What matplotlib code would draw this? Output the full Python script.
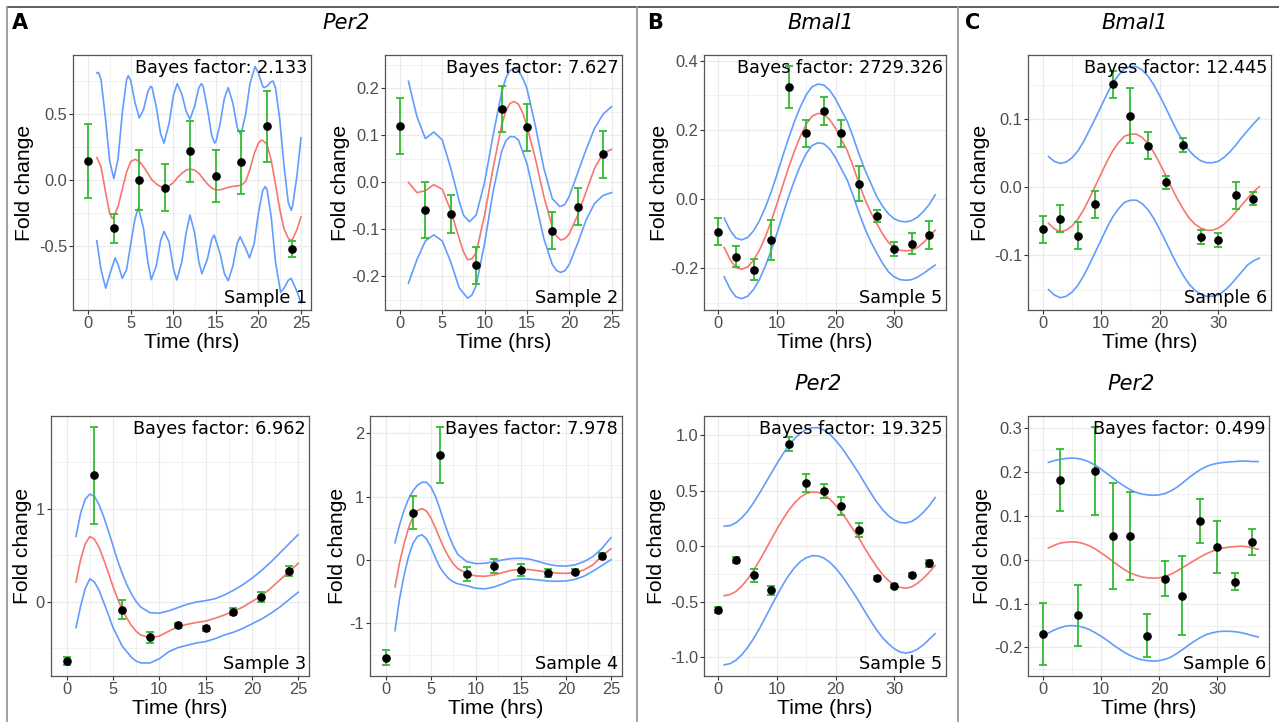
import numpy as np
import matplotlib
matplotlib.use('Agg')
import matplotlib.pyplot as plt
from matplotlib.lines import Line2D
from matplotlib.ticker import FixedLocator, FormatStrFormatter

W, H = 1279, 722
plt.rcParams['axes.unicode_minus'] = False

# ---------------- data ----------------
t_pts_A = [0, 3, 6, 9, 12, 15, 18, 21, 24]
t_pts_BC = [0, 3, 6, 9, 12, 15, 18, 21, 24, 27, 30, 33, 36]

# Sample 1 (Per2)
s1_mean = [0.141, -0.364, 0.0, -0.058, 0.217, 0.03, 0.134, 0.407, -0.525]
s1_err = [0.28, 0.11, 0.23, 0.18, 0.23, 0.2, 0.24, 0.27, 0.06]
s1_fit_t = [1.0, 1.5, 2.0, 2.5, 2.8, 3.0, 3.5, 4.0, 4.5, 5.0, 5.5, 6.0, 6.5, 7.0, 7.5,
            8.0, 8.5, 9.0, 9.5, 10.0, 10.5, 11.0, 11.5, 12.0, 12.5, 13.0, 13.5, 14.0,
            14.5, 15.0, 15.5, 16.0, 16.5, 17.0, 17.5, 18.0, 18.5, 19.0, 19.5, 20.0,
            20.3, 20.5, 21.0, 21.5, 22.0, 22.5, 23.0, 23.5, 23.7, 24.0, 24.5, 25.0]
s1_fit = [0.17, 0.10, -0.08, -0.25, -0.29, -0.28, -0.20, -0.07, 0.06, 0.14, 0.157,
          0.14, 0.10, 0.05, 0.00, -0.03, -0.05, -0.056, -0.045, -0.02, 0.02, 0.05,
          0.075, 0.083, 0.075, 0.05, 0.01, -0.03, -0.06, -0.076, -0.074, -0.065,
          -0.055, -0.048, -0.045, -0.04, -0.01, 0.08, 0.20, 0.28, 0.30, 0.30, 0.27,
          0.15, -0.03, -0.22, -0.37, -0.44, -0.455, -0.45, -0.38, -0.28]
s1_up_t = [1.0, 1.2, 1.5, 2.0, 2.5, 3.0, 3.5, 4.0, 4.5, 4.7, 5.0, 5.5, 6.0, 6.5, 7.0,
           7.35, 7.5, 8.0, 8.5, 8.9, 9.5, 10.0, 10.45, 11.0, 11.5, 11.95, 12.5, 13.0,
           13.3, 13.5, 14.0, 14.5, 14.85, 15.0, 15.5, 16.0, 16.45, 17.0, 17.5, 17.85,
           18.0, 18.5, 19.0, 19.6, 20.0, 20.5, 20.65, 21.0, 21.5, 21.7, 22.0, 22.5,
           23.0, 23.5, 23.85, 24.0, 24.5, 25.0]
s1_up = [0.81, 0.815, 0.76, 0.48, 0.15, 0.01, 0.16, 0.51, 0.76, 0.79, 0.75, 0.585,
         0.47, 0.535, 0.67, 0.71, 0.70, 0.55, 0.35, 0.28, 0.43, 0.64, 0.73, 0.65,
         0.52, 0.46, 0.56, 0.70, 0.73, 0.71, 0.54, 0.34, 0.28, 0.29, 0.43, 0.62,
         0.70, 0.58, 0.40, 0.35, 0.36, 0.50, 0.73, 0.86, 0.81, 0.71, 0.70, 0.71,
         0.745, 0.75, 0.70, 0.46, 0.11, -0.17, -0.23, -0.20, 0.02, 0.32]
s1_lo_t = [1.0, 1.5, 2.05, 2.5, 3.15, 3.5, 4.0, 4.5, 5.0, 5.5, 5.9, 6.5, 7.0, 7.4, 8.0,
           8.5, 8.9, 9.5, 10.0, 10.4, 11.0, 11.5, 11.95, 12.5, 13.0, 13.35, 14.0,
           14.5, 14.8, 15.5, 16.0, 16.45, 17.0, 17.5, 17.85, 18.5, 18.95, 19.5, 20.0,
           20.5, 20.8, 21.0, 21.5, 22.0, 22.6, 23.0, 23.5, 23.85, 24.5, 25.0]
s1_lo = [-0.46, -0.68, -0.82, -0.72, -0.59, -0.64, -0.745, -0.68, -0.48, -0.29,
         -0.21, -0.37, -0.62, -0.755, -0.65, -0.46, -0.39, -0.47, -0.67, -0.758,
         -0.62, -0.40, -0.265, -0.40, -0.62, -0.71, -0.60, -0.45, -0.417, -0.56,
         -0.71, -0.763, -0.65, -0.48, -0.43, -0.52, -0.59, -0.48, -0.25, -0.08,
         -0.05, -0.07, -0.28, -0.62, -0.85, -0.82, -0.76, -0.745, -0.84, -0.93]

# Sample 2 (Per2)
s2_mean = [0.120, -0.059, -0.0675, -0.177, 0.156, 0.117, -0.103, -0.052, 0.060]
s2_err = [0.06, 0.06, 0.04, 0.04, 0.05, 0.05, 0.04, 0.04, 0.05]
s2_fit_t = [1, 2, 3, 4, 5, 6, 7, 7.5, 8, 8.5, 9, 10, 11, 12, 12.5, 13, 13.5, 14, 14.5,
            15, 16, 17, 18, 18.5, 19, 19.5, 20, 21, 22, 23, 24, 25]
s2_fit = [0.0, -0.022, -0.018, -0.005, -0.015, -0.06, -0.12, -0.148, -0.165, -0.163,
          -0.15, -0.07, 0.03, 0.12, 0.152, 0.168, 0.172, 0.166, 0.148, 0.12, 0.05,
          -0.03, -0.095, -0.115, -0.123, -0.12, -0.11, -0.07, -0.02, 0.03, 0.062, 0.070]
s2_up_t = [1, 2, 3, 4, 5, 6, 7, 7.5, 8.2, 9, 10, 11, 12, 12.5, 13, 13.6, 14, 14.5, 15,
           16, 17, 18, 18.9, 19.5, 20, 21, 22, 23, 24, 25]
s2_up = [0.215, 0.14, 0.093, 0.107, 0.09, 0.03, -0.04, -0.07, -0.084, -0.07, 0.0,
         0.10, 0.19, 0.222, 0.238, 0.243, 0.238, 0.222, 0.20, 0.12, 0.03, -0.035,
         -0.052, -0.047, -0.03, 0.02, 0.07, 0.115, 0.145, 0.161]
s2_lo_t = [1, 2, 3, 4, 5, 6, 7, 8, 8.5, 9, 10, 11, 12, 12.5, 13, 13.5, 14, 15, 16, 17,
           18, 18.5, 19, 19.5, 20, 21, 22, 23, 24, 25]
s2_lo = [-0.215, -0.165, -0.125, -0.112, -0.125, -0.17, -0.225, -0.247, -0.24, -0.22,
         -0.13, -0.02, 0.065, 0.088, 0.097, 0.097, 0.09, 0.04, -0.04, -0.12, -0.175,
         -0.188, -0.192, -0.188, -0.175, -0.13, -0.08, -0.045, -0.028, -0.022]

# Sample 3 (Per2)
s3_mean = [-0.639, 1.357, -0.086, -0.386, -0.257, -0.286, -0.107, 0.046, 0.332]
s3_err = [0.045, 0.52, 0.10, 0.06, 0.027, 0.025, 0.034, 0.055, 0.052]
s34_t = [1.0, 1.5, 2.0, 2.5, 3.0, 3.5, 4.0, 4.5, 5.0, 5.5, 6.0, 6.5, 7.0, 7.5, 8.0,
         9, 10, 11, 12, 13, 14, 15, 16, 17, 18, 19, 20, 21, 22, 23, 24, 25]
s3_fit = [0.21, 0.45, 0.62, 0.70, 0.67, 0.58, 0.45, 0.31, 0.16, 0.03, -0.09, -0.18,
          -0.26, -0.32, -0.36,
          -0.39, -0.37, -0.32, -0.27, -0.245, -0.225, -0.21, -0.18, -0.145, -0.105,
          -0.06, 0.0, 0.06, 0.14, 0.23, 0.32, 0.41]
s3_up = [0.70, 0.95, 1.10, 1.155, 1.13, 1.04, 0.91, 0.76, 0.60, 0.44, 0.30, 0.18,
         0.08, 0.0, -0.06,
         -0.12, -0.125, -0.10, -0.065, -0.03, -0.005, 0.01, 0.03, 0.07, 0.12,
         0.18, 0.25, 0.33, 0.42, 0.52, 0.62, 0.72]
s3_lo = [-0.28, -0.05, 0.14, 0.245, 0.21, 0.12, -0.01, -0.14, -0.28, -0.38, -0.48,
         -0.54, -0.60, -0.64, -0.66,
         -0.66, -0.615, -0.54, -0.495, -0.47, -0.445, -0.43, -0.40, -0.36, -0.33,
         -0.29, -0.24, -0.19, -0.13, -0.06, 0.02, 0.10]

# Sample 4 (Per2)
s4_mean = [-1.545, 0.746, 1.661, -0.222, -0.10, -0.164, -0.206, -0.185, 0.063]
s4_err = [0.115, 0.26, 0.44, 0.115, 0.105, 0.09, 0.066, 0.043, 0.05]
s4_fit = [-0.43, -0.05, 0.25, 0.50, 0.68, 0.78, 0.81, 0.77, 0.66, 0.50, 0.33, 0.17,
          0.04, -0.07, -0.14,
          -0.22, -0.255, -0.26, -0.24, -0.20, -0.165, -0.15, -0.155, -0.175, -0.195,
          -0.21, -0.215, -0.2, -0.16, -0.08, 0.06, 0.175]
s4_up = [0.27, 0.55, 0.78, 0.96, 1.09, 1.18, 1.225, 1.225, 1.15, 1.0, 0.80, 0.58,
         0.38, 0.21, 0.08,
         -0.03, -0.06, -0.055, -0.03, 0.0, 0.02, 0.025, 0.01, -0.03, -0.07,
         -0.095, -0.10, -0.08, -0.03, 0.05, 0.18, 0.35]
s4_lo = [-1.12, -0.62, -0.25, 0.05, 0.26, 0.37, 0.395, 0.33, 0.20, 0.03, -0.12, -0.22,
         -0.30, -0.35, -0.38,
         -0.41, -0.45, -0.46, -0.43, -0.38, -0.32, -0.30, -0.305, -0.32, -0.335,
         -0.34, -0.335, -0.31, -0.26, -0.18, -0.09, 0.0]

t_curve_BC = list(range(1, 38))

# Sample 5 (Bmal1)
s5b_mean = [-0.094, -0.167, -0.204, -0.119, 0.325, 0.19, 0.255, 0.19, 0.045,
            -0.049, -0.145, -0.129, -0.104]
s5b_err = [0.04, 0.03, 0.03, 0.058, 0.06, 0.04, 0.04, 0.04, 0.05, 0.018, 0.02, 0.03, 0.04]
s5b_fit = [-0.14, -0.175, -0.198, -0.203, -0.196, -0.177, -0.148, -0.11, -0.065, -0.014,
           0.04, 0.092, 0.14, 0.182, 0.217, 0.24, 0.248, 0.245, 0.23, 0.205,
           0.172, 0.14, 0.095, 0.045, 0.0, -0.038, -0.07, -0.10, -0.125, -0.14,
           -0.148, -0.15, -0.148, -0.14, -0.126, -0.108, -0.09]
s5b_up = [-0.055, -0.09, -0.113, -0.118, -0.111, -0.092, -0.063, -0.025, 0.02, 0.071,
          0.125, 0.177, 0.225, 0.267, 0.302, 0.325, 0.333, 0.33, 0.315, 0.29,
          0.257, 0.225, 0.18, 0.13, 0.085, 0.047, 0.008, -0.02, -0.042, -0.057,
          -0.064, -0.066, -0.062, -0.052, -0.036, -0.015, 0.012]
s5b_lo = [-0.225, -0.26, -0.283, -0.288, -0.281, -0.262, -0.233, -0.195, -0.15, -0.099,
          -0.045, 0.007, 0.055, 0.097, 0.132, 0.155, 0.163, 0.16, 0.145, 0.12,
          0.087, 0.055, 0.01, -0.04, -0.085, -0.123, -0.155, -0.185, -0.21, -0.225,
          -0.233, -0.235, -0.233, -0.226, -0.215, -0.203, -0.191]

# Sample 6 (Bmal1)
s6b_mean = [-0.0615, -0.046, -0.071, -0.025, 0.151, 0.105, 0.061, 0.007, 0.062,
            -0.073, -0.077, -0.012, -0.0166]
s6b_err = [0.02, 0.02, 0.02, 0.02, 0.02, 0.04, 0.02, 0.01, 0.01, 0.01, 0.01, 0.02, 0.01]
s6b_fit = [-0.053, -0.061, -0.065, -0.063, -0.057, -0.047, -0.033, -0.016, 0.002, 0.02,
           0.038, 0.054, 0.066, 0.075, 0.078, 0.078, 0.073, 0.064, 0.051, 0.035,
           0.018, 0.0, -0.017, -0.032, -0.045, -0.054, -0.06, -0.063, -0.063, -0.06,
           -0.054, -0.046, -0.036, -0.026, -0.016, -0.007, 0.001]
s6b_up = [0.045, 0.038, 0.035, 0.037, 0.043, 0.053, 0.067, 0.084, 0.101, 0.119,
          0.137, 0.153, 0.165, 0.174, 0.177, 0.177, 0.172, 0.163, 0.15, 0.134,
          0.117, 0.099, 0.082, 0.067, 0.054, 0.045, 0.039, 0.036, 0.036, 0.038,
          0.044, 0.052, 0.062, 0.073, 0.083, 0.093, 0.102]
s6b_lo = [-0.150, -0.158, -0.162, -0.160, -0.154, -0.144, -0.130, -0.113, -0.095, -0.077,
          -0.059, -0.043, -0.031, -0.022, -0.019, -0.019, -0.024, -0.033, -0.046, -0.062,
          -0.079, -0.097, -0.114, -0.129, -0.142, -0.151, -0.157, -0.160, -0.160, -0.158,
          -0.152, -0.144, -0.134, -0.124, -0.114, -0.108, -0.104]

# Sample 5 (Per2)
s5p_mean = [-0.574, -0.124, -0.263, -0.399, 0.921, 0.568, 0.498, 0.363, 0.145,
            -0.287, -0.363, -0.26, -0.157]
s5p_err = [0.027, 0.028, 0.06, 0.04, 0.06, 0.08, 0.06, 0.08, 0.06, 0.02, 0.018, 0.018, 0.03]
s5p_fit = [-0.447, -0.438, -0.409, -0.361, -0.297, -0.22, -0.132, -0.038, 0.058, 0.153,
           0.243, 0.322, 0.389, 0.441, 0.474, 0.488, 0.485, 0.463, 0.425, 0.37,
           0.305, 0.23, 0.15, 0.07, -0.02, -0.105, -0.185, -0.255, -0.31, -0.35,
           -0.372, -0.38, -0.368, -0.335, -0.29, -0.235, -0.175]
s5p_up = [0.18, 0.185, 0.21, 0.255, 0.315, 0.39, 0.475, 0.565, 0.655, 0.745,
          0.83, 0.905, 0.97, 1.02, 1.053, 1.068, 1.068, 1.048, 1.01, 0.955,
          0.89, 0.815, 0.735, 0.655, 0.565, 0.48, 0.40, 0.33, 0.275, 0.235,
          0.213, 0.208, 0.222, 0.257, 0.305, 0.365, 0.438]
s5p_lo = [-1.072, -1.06, -1.03, -0.98, -0.915, -0.835, -0.745, -0.645, -0.545, -0.445,
          -0.35, -0.265, -0.195, -0.14, -0.105, -0.087, -0.088, -0.108, -0.145, -0.198,
          -0.263, -0.338, -0.418, -0.50, -0.59, -0.675, -0.755, -0.825, -0.88, -0.925,
          -0.955, -0.965, -0.955, -0.93, -0.89, -0.84, -0.79]

# Sample 6 (Per2)
s6p_mean = [-0.169, 0.182, -0.127, 0.202, 0.054, 0.055, -0.173, -0.043, -0.082,
            0.088, 0.029, -0.05, 0.040]
s6p_err = [0.07, 0.07, 0.069, 0.10, 0.12, 0.10, 0.049, 0.04, 0.09, 0.05, 0.06, 0.02, 0.03]
s6p_fit = [0.027, 0.033, 0.038, 0.040, 0.041, 0.040, 0.037, 0.032, 0.025, 0.016,
           0.007, -0.003, -0.013, -0.022, -0.030, -0.035, -0.039, -0.041, -0.042, -0.041,
           -0.038, -0.033, -0.026, -0.018, -0.010, -0.002, 0.006, 0.013, 0.019, 0.024,
           0.027, 0.029, 0.030, 0.031, 0.030, 0.027, 0.024]
s6p_up = [0.222, 0.226, 0.229, 0.231, 0.232, 0.231, 0.228, 0.223, 0.216, 0.207,
          0.197, 0.187, 0.177, 0.168, 0.160, 0.154, 0.150, 0.148, 0.147, 0.148,
          0.151, 0.157, 0.165, 0.175, 0.186, 0.196, 0.205, 0.212, 0.217, 0.220,
          0.222, 0.223, 0.224, 0.225, 0.225, 0.224, 0.224]
s6p_lo = [-0.167, -0.160, -0.155, -0.151, -0.150, -0.151, -0.154, -0.159, -0.166, -0.174,
          -0.183, -0.193, -0.202, -0.211, -0.218, -0.224, -0.228, -0.230, -0.231, -0.230,
          -0.227, -0.222, -0.214, -0.205, -0.195, -0.186, -0.178, -0.171, -0.167, -0.164,
          -0.163, -0.163, -0.164, -0.166, -0.169, -0.173, -0.176]

bayes = ["2.133", "7.627", "6.962", "7.978", "2729.326", "12.445", "19.325", "0.499"]
samples = ["Sample 1", "Sample 2", "Sample 3", "Sample 4",
           "Sample 5", "Sample 6", "Sample 5", "Sample 6"]
xticks_A = [0, 5, 10, 15, 20, 25]
xticks_BC = [0, 10, 20, 30]

# ---------------- style ----------------
RED = '#F8766D'
BLUE = '#619CFF'
GREEN = '#33BB33'
GRID = '#EBEBEB'
TICKC = '#4D4D4D'
SANS = 'Liberation Sans'
TXT = 'DejaVu Sans'

fig = plt.figure(figsize=(W / 100, H / 100), dpi=100)


def rect(l, t, r, b):
    return [l / W, 1 - b / H, (r - l) / W, (b - t) / H]


panels = [
    dict(box=(73.3, 55, 310.7, 310), tp=t_pts_A, m=s1_mean, e=s1_err,
         fit=(s1_fit_t, s1_fit), up=(s1_up_t, s1_up), lo=(s1_lo_t, s1_lo),
         xl=(-1.76, 26.14), yl=(-0.985, 0.947),
         yt=[-0.5, 0.0, 0.5], ym=[-0.75, -0.25, 0.25, 0.75], fmt='%.1f', xt=xticks_A,
         ylab=25, xlab=342.5),
    dict(box=(385, 55, 621.7, 310), tp=t_pts_A, m=s2_mean, e=s2_err,
         fit=(s2_fit_t, s2_fit), up=(s2_up_t, s2_up), lo=(s2_lo_t, s2_lo),
         xl=(-1.77, 26.2), yl=(-0.272, 0.271),
         yt=[-0.2, -0.1, 0.0, 0.1, 0.2], ym=[-0.25, -0.15, -0.05, 0.05, 0.15, 0.25],
         fmt='%.1f', xt=xticks_A, ylab=340, xlab=342.5),
    dict(box=(50.7, 415.5, 309.3, 676), tp=t_pts_A, m=s3_mean, e=s3_err,
         fit=(s34_t, s3_fit), up=(s34_t, s3_up), lo=(s34_t, s3_lo),
         xl=(-1.73, 26.2), yl=(-0.80, 2.0),
         yt=[0, 1], ym=[-0.5, 0.5, 1.5], fmt='%d', xt=xticks_A, ylab=23, xlab=708.5),
    dict(box=(370, 415.5, 621.7, 676), tp=t_pts_A, m=s4_mean, e=s4_err,
         fit=(s34_t, s4_fit), up=(s34_t, s4_up), lo=(s34_t, s4_lo),
         xl=(-1.78, 26.2), yl=(-1.836, 2.28),
         yt=[-1, 0, 1, 2], ym=[-1.5, -0.5, 0.5, 1.5], fmt='%d', xt=xticks_A,
         ylab=337, xlab=708.5),
    dict(box=(704, 55, 946, 310), tp=t_pts_BC, m=s5b_mean, e=s5b_err,
         fit=(t_curve_BC, s5b_fit), up=(t_curve_BC, s5b_up), lo=(t_curve_BC, s5b_lo),
         xl=(-2.45, 38.85), yl=(-0.321, 0.417),
         yt=[-0.2, 0.0, 0.2, 0.4], ym=[-0.3, -0.1, 0.1, 0.3], fmt='%.1f', xt=xticks_BC,
         ylab=660, xlab=342.5),
    dict(box=(1028.3, 55, 1270.7, 310), tp=t_pts_BC, m=s6b_mean, e=s6b_err,
         fit=(t_curve_BC, s6b_fit), up=(t_curve_BC, s6b_up), lo=(t_curve_BC, s6b_lo),
         xl=(-2.45, 38.95), yl=(-0.18, 0.194),
         yt=[-0.1, 0.0, 0.1], ym=[-0.15, -0.05, 0.05, 0.15], fmt='%.1f', xt=xticks_BC,
         ylab=980, xlab=342.5),
    dict(box=(704.3, 415.5, 946, 676), tp=t_pts_BC, m=s5p_mean, e=s5p_err,
         fit=(t_curve_BC, s5p_fit), up=(t_curve_BC, s5p_up), lo=(t_curve_BC, s5p_lo),
         xl=(-2.4, 38.85), yl=(-1.172, 1.178),
         yt=[-1.0, -0.5, 0.0, 0.5, 1.0], ym=[-0.75, -0.25, 0.25, 0.75], fmt='%.1f',
         xt=xticks_BC, ylab=657, xlab=708.5),
    dict(box=(1028.3, 415.5, 1269.3, 676), tp=t_pts_BC, m=s6p_mean, e=s6p_err,
         fit=(t_curve_BC, s6p_fit), up=(t_curve_BC, s6p_up), lo=(t_curve_BC, s6p_lo),
         xl=(-2.45, 38.9), yl=(-0.265, 0.329),
         yt=[-0.2, -0.1, 0.0, 0.1, 0.2, 0.3], ym=[-0.25, -0.15, -0.05, 0.05, 0.15, 0.25],
         fmt='%.1f', xt=xticks_BC, ylab=982, xlab=708.5),
]

for i, p in enumerate(panels):
    l, t, r, b = p['box']
    ax = fig.add_axes(rect(l, t, r, b))
    ax.set_xlim(*p['xl'])
    ax.set_ylim(*p['yl'])
    ax.set_axisbelow(True)
    ax.xaxis.set_major_locator(FixedLocator(p['xt']))
    xm = [v + (p['xt'][1] - p['xt'][0]) / 2 for v in p['xt'][:-1]]
    ax.xaxis.set_minor_locator(FixedLocator(xm))
    ax.yaxis.set_major_locator(FixedLocator(p['yt']))
    ax.yaxis.set_minor_locator(FixedLocator(p['ym']))
    ax.yaxis.set_major_formatter(FormatStrFormatter(p['fmt']))
    ax.grid(which='major', color=GRID, lw=0.9)
    ax.grid(which='minor', color=GRID, lw=0.5)
    ax.tick_params(which='minor', length=0)
    ax.tick_params(which='major', length=3.0, width=0.8, color='#333333',
                   labelcolor=TICKC, labelsize=11.8)
    ax.tick_params(axis='x', pad=1.6)
    ax.tick_params(axis='y', pad=1.2)
    for lab in ax.get_xticklabels() + ax.get_yticklabels():
        lab.set_family(SANS)
    for s in ax.spines.values():
        s.set_color('#555555')
        s.set_linewidth(0.9)

    ax.plot(*p['up'], color=BLUE, lw=1.2, zorder=2)
    ax.plot(*p['lo'], color=BLUE, lw=1.2, zorder=2)
    ax.plot(*p['fit'], color=RED, lw=1.2, zorder=2)
    ax.errorbar(p['tp'], p['m'], yerr=p['e'], fmt='none', ecolor=GREEN,
                elinewidth=1.3, capsize=2.8, capthick=1.3, zorder=3)
    ax.plot(p['tp'], p['m'], 'o', color='black', ms=5.2, zorder=4)

    ax.annotate('Bayes factor: ' + bayes[i], xy=(1, 1), xycoords='axes fraction',
                xytext=(-2.5, -3.0), textcoords='offset points', ha='right', va='top',
                fontsize=12.7, family=TXT, color='black', zorder=5)
    ax.annotate(samples[i], xy=(1, 0), xycoords='axes fraction',
                xytext=(-2.5, 5), textcoords='offset points', ha='right', va='baseline',
                fontsize=12.7, family=TXT, color='black', zorder=5)

    ax.set_xlabel('Time (hrs)', family=SANS, fontsize=15.2, va='center')
    ax.set_ylabel('Fold change', family=SANS, fontsize=15.2, va='center')
    ax.xaxis.set_label_coords(0.5, (b - p['xlab']) / (b - t))
    ax.yaxis.set_label_coords((p['ylab'] - l) / (r - l), 0.5)


# headers
def ftext(x, y, s, **kw):
    fig.text(x / W, 1 - y / H, s, ha='center', va='center', family=TXT, **kw)


ftext(20, 23, 'A', fontsize=15, weight='bold')
ftext(655, 23, 'B', fontsize=15, weight='bold')
ftext(973, 23, 'C', fontsize=15, weight='bold')
ftext(346, 23, 'Per2', fontsize=15, style='italic')
ftext(821, 23, 'Bmal1', fontsize=15, style='italic')
ftext(1135, 23, 'Bmal1', fontsize=15, style='italic')
ftext(818, 384, 'Per2', fontsize=15, style='italic')
ftext(1131, 384, 'Per2', fontsize=15, style='italic')

# frame lines
fig.add_artist(Line2D([7 / W, 1], [1 - 7 / H, 1 - 7 / H], transform=fig.transFigure,
                      color='#444444', lw=1.2))
for xv in (7, 637, 958):
    fig.add_artist(Line2D([xv / W, xv / W], [0, 1 - 7 / H], transform=fig.transFigure,
                          color='#999999', lw=1.3))

fig.savefig('out.png', dpi=100)
